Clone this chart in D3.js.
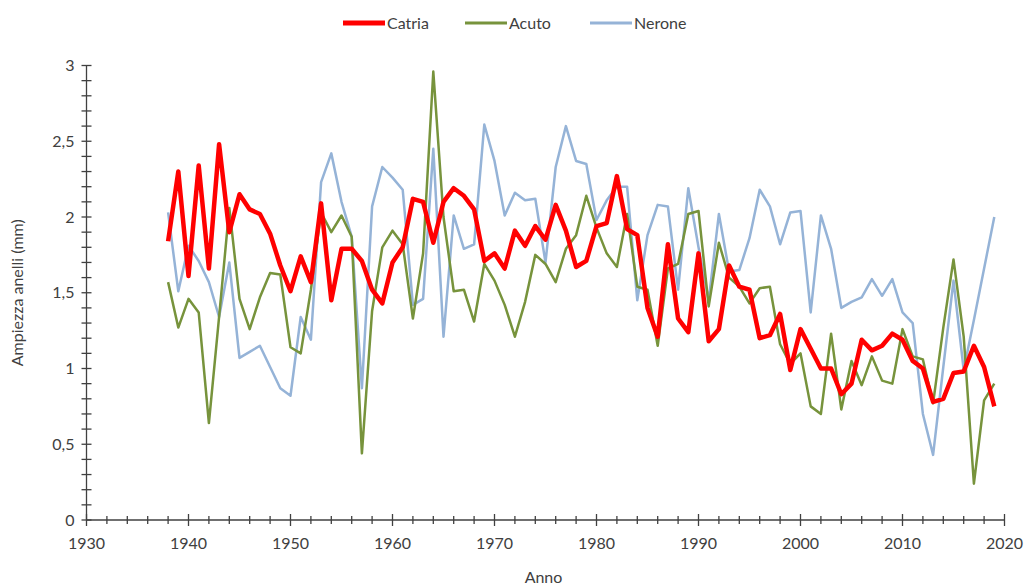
<!DOCTYPE html>
<html>
<head>
<meta charset="utf-8">
<script src="https://cdn.jsdelivr.net/npm/d3@7"></script>
<style>
  html, body { margin: 0; padding: 0; background: #fff; }
  svg { display: block; font-family: Lato, "Open Sans", sans-serif; }
</style>
</head>
<body>
<svg id="chart" width="1030" height="587"></svg>
<script>
// Ring width series (mm) for three sites, 1938–2019
const years = d3.range(1938, 2020);

const catria = [
  1.84, 2.30, 1.61, 2.34, 1.66, 2.48, 1.90, 2.15, 2.05, 2.02,
  1.89, 1.68, 1.51, 1.74, 1.57, 2.09, 1.45, 1.79, 1.79, 1.71,
  1.52, 1.43, 1.70, 1.80, 2.12, 2.10, 1.83, 2.10, 2.19, 2.14,
  2.05, 1.71, 1.76, 1.66, 1.91, 1.81, 1.94, 1.85, 2.08, 1.91,
  1.67, 1.71, 1.94, 1.96, 2.27, 1.92, 1.88, 1.40, 1.21, 1.82,
  1.33, 1.24, 1.76, 1.18, 1.26, 1.68, 1.54, 1.52, 1.20, 1.22,
  1.36, 0.99, 1.26, 1.13, 1.00, 1.00, 0.83, 0.90, 1.19, 1.12,
  1.15, 1.23, 1.19, 1.05, 1.00, 0.78, 0.80, 0.97, 0.98, 1.15,
  1.01, 0.75
];

const acuto = [
  1.57, 1.27, 1.46, 1.37, 0.64, 1.34, 2.06, 1.46, 1.26, 1.47,
  1.63, 1.62, 1.14, 1.10, 1.52, 2.03, 1.90, 2.01, 1.87, 0.44,
  1.38, 1.80, 1.91, 1.82, 1.33, 1.76, 2.96, 2.00, 1.51, 1.52,
  1.31, 1.69, 1.58, 1.42, 1.21, 1.44, 1.75, 1.69, 1.57, 1.79,
  1.88, 2.14, 1.93, 1.76, 1.67, 2.02, 1.54, 1.52, 1.15, 1.66,
  1.69, 2.02, 2.04, 1.41, 1.83, 1.60, 1.54, 1.43, 1.53, 1.54,
  1.16, 1.03, 1.10, 0.75, 0.70, 1.23, 0.73, 1.05, 0.89, 1.08,
  0.92, 0.90, 1.26, 1.08, 1.06, 0.77, 1.27, 1.72, 1.21, 0.24,
  0.79, 0.90
];

const nerone = [
  2.03, 1.51, 1.81, 1.71, 1.57, 1.34, 1.70, 1.07, 1.11, 1.15,
  1.01, 0.87, 0.82, 1.34, 1.19, 2.23, 2.42, 2.10, 1.87, 0.87,
  2.07, 2.33, 2.26, 2.18, 1.42, 1.46, 2.45, 1.21, 2.01, 1.79,
  1.82, 2.61, 2.37, 2.01, 2.16, 2.11, 2.12, 1.70, 2.33, 2.60,
  2.37, 2.35, 1.98, 2.11, 2.20, 2.20, 1.45, 1.88, 2.08, 2.07,
  1.52, 2.19, 1.80, 1.45, 2.02, 1.64, 1.65, 1.86, 2.18, 2.07,
  1.82, 2.03, 2.04, 1.37, 2.01, 1.79, 1.40, 1.44, 1.47, 1.59,
  1.48, 1.59, 1.37, 1.30, 0.70, 0.43, 1.01, 1.58, 0.99, 1.32,
  1.66, 2.00
];

const seriesNames = ["Catria", "Acuto", "Nerone"];
const seriesColors = ["#ff0000", "#77933c", "#95b3d7"];
const seriesWidths = [4.5, 2.5, 2.5];
const seriesValues = [catria, acuto, nerone];

const xTickLabels = [1930, 1940, 1950, 1960, 1970, 1980, 1990, 2000, 2010, 2020];
const yTickLabels = [0, 0.5, 1, 1.5, 2, 2.5, 3];

const svg = d3.select("#chart");
const plotLeft = 86.5, plotRight = 1004.5, plotTop = 65.5, plotBottom = 520;

const x = d3.scaleLinear().domain([1930, 2020]).range([plotLeft, plotRight]);
const y = d3.scaleLinear().domain([0, 3]).range([plotBottom, plotTop]);

const axisColor = "#404040";
const fmt = v => d3.format("")(v).replace(".", ",");

// y axis: line, minor ticks every 0.1 crossing the axis, labels every 0.5
const gy = svg.append("g");
gy.append("line").attr("x1", plotLeft).attr("x2", plotLeft).attr("y1", y(0)).attr("y2", y(3))
  .attr("stroke", axisColor).attr("stroke-width", 1.3);
gy.selectAll("line.tick").data(d3.range(0, 31).map(i => i / 10)).join("line")
  .attr("class", "tick")
  .attr("x1", plotLeft - 5).attr("x2", plotLeft + 5)
  .attr("y1", d => y(d)).attr("y2", d => y(d))
  .attr("stroke", axisColor).attr("stroke-width", 1.3);
gy.selectAll("text").data(yTickLabels).join("text")
  .attr("x", plotLeft - 12).attr("y", d => y(d)).attr("dy", "0.35em")
  .attr("text-anchor", "end").attr("font-size", 16).attr("fill", "#404040")
  .text(fmt);

// x axis: minor ticks every 2 years, longer ticks every decade
const gx = svg.append("g");
gx.append("line").attr("x1", plotLeft).attr("x2", plotRight).attr("y1", plotBottom).attr("y2", plotBottom)
  .attr("stroke", axisColor).attr("stroke-width", 1.3);
gx.selectAll("line.tick").data(d3.range(1930, 2021, 2)).join("line")
  .attr("class", "tick")
  .attr("x1", d => x(d)).attr("x2", d => x(d))
  .attr("y1", d => d % 10 === 0 ? plotBottom - 6 : plotBottom - 4)
  .attr("y2", d => d % 10 === 0 ? plotBottom + 6 : plotBottom + 4)
  .attr("stroke", axisColor).attr("stroke-width", 1.3);
gx.selectAll("text").data(xTickLabels).join("text")
  .attr("x", d => x(d)).attr("y", plotBottom + 29)
  .attr("text-anchor", "middle").attr("font-size", 16).attr("fill", "#404040")
  .text(d => d);

// axis titles
svg.append("text").attr("x", (plotLeft + plotRight) / 2 - 2).attr("y", 583)
  .attr("text-anchor", "middle").attr("font-size", 16).attr("fill", "#404040")
  .text("Anno");
svg.append("text")
  .attr("transform", `translate(23,${(plotTop + plotBottom) / 2}) rotate(-90)`)
  .attr("text-anchor", "middle").attr("font-size", 16).attr("fill", "#404040")
  .text("Ampiezza anelli (mm)");

// series lines (drawn Nerone, Acuto, then Catria on top)
const line = d3.line().x(d => x(d[0])).y(d => y(d[1]));
[2, 1, 0].forEach(i => {
  svg.append("path")
    .datum(years.map((yr, k) => [yr, seriesValues[i][k]]))
    .attr("fill", "none")
    .attr("stroke", seriesColors[i])
    .attr("stroke-width", seriesWidths[i])
    .attr("stroke-linejoin", "round")
    .attr("d", line);
});

// legend
const legendX = [343, 465, 590];
const lg = svg.append("g");
seriesNames.forEach((name, i) => {
  lg.append("line")
    .attr("x1", legendX[i]).attr("x2", legendX[i] + 42)
    .attr("y1", 23).attr("y2", 23)
    .attr("stroke", seriesColors[i]).attr("stroke-width", seriesWidths[i] + 0.5);
  lg.append("text")
    .attr("x", legendX[i] + 44).attr("y", 23).attr("dy", "0.35em")
    .attr("font-size", 16).attr("fill", "#404040")
    .text(name);
});
</script>
</body>
</html>
